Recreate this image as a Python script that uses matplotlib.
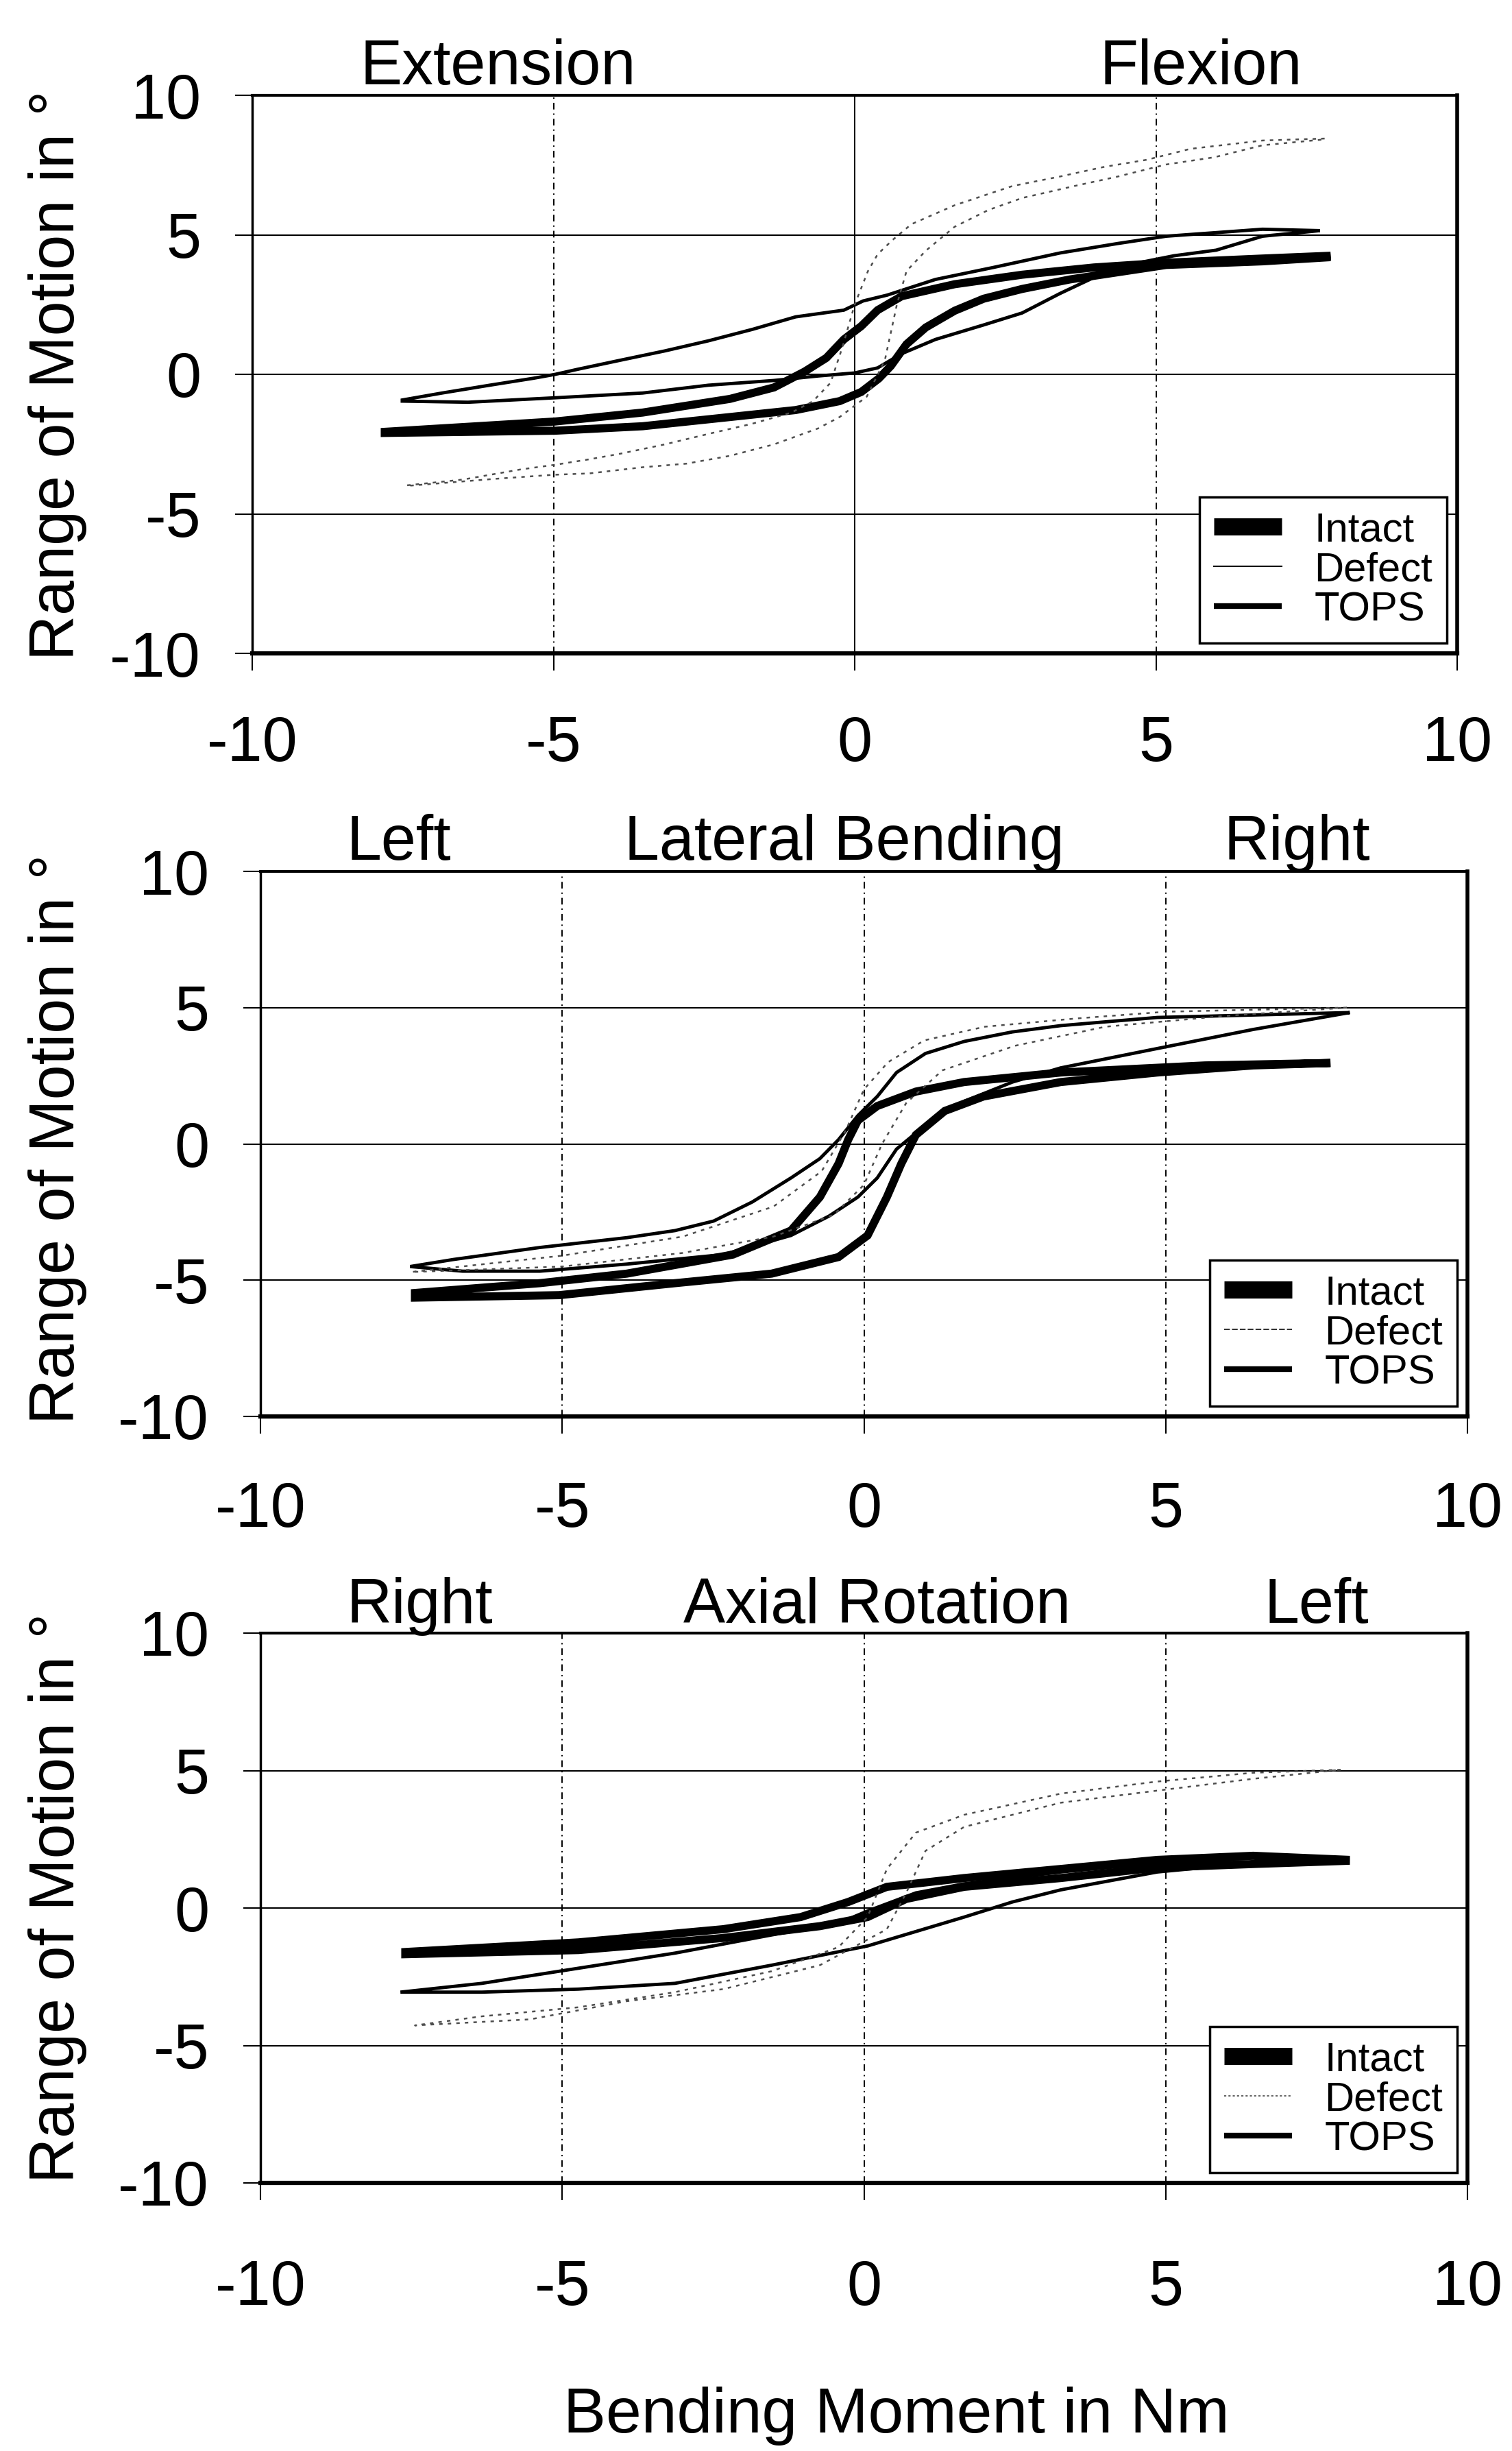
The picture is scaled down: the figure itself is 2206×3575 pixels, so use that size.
import matplotlib
matplotlib.use('Agg')
import matplotlib.pyplot as plt
from matplotlib.lines import Line2D

plt.rcParams['font.family'] = ['Liberation Sans', 'DejaVu Sans']

W, H, DPI = 2206, 3575, 100

# ---------------- data ----------------
X_TICKS = [-10, -5, 0, 5, 10]
X_TICK_LABELS = ['-10', '-5', '0', '5', '10']
Y_TICKS = [-10, -5, 0, 5, 10]
Y_TICK_LABELS = ['-10', '-5', '0', '5', '10']
SERIES = ['Intact', 'Defect', 'TOPS']
Y_LABEL = 'Range of Motion in °'
X_LABEL = 'Bending Moment in Nm'

FE_TITLES = ['Extension', 'Flexion']
LB_TITLES = ['Left', 'Lateral Bending', 'Right']
AR_TITLES = ['Right', 'Axial Rotation', 'Left']

# Flexion / Extension
FE_INTACT_UPPER = [(-7.8, -2.06), (-4.97, -1.69), (-3.52, -1.37), (-2.07, -0.88), (-1.34, -0.47),
                   (-0.83, 0.1), (-0.47, 0.59), (-0.18, 1.25), (0.11, 1.73), (0.38, 2.3), (0.78, 2.8),
                   (1.66, 3.23), (2.78, 3.57), (3.97, 3.83), (5.17, 4.0), (6.77, 4.15), (7.9, 4.25)]
FE_INTACT_LOWER = [(-7.8, -2.1), (-4.97, -2.02), (-3.52, -1.86), (-2.07, -1.53), (-0.98, -1.28),
                   (-0.25, -0.96), (0.11, -0.63), (0.4, -0.15), (0.6, 0.3), (0.86, 1.08), (1.18, 1.68),
                   (1.66, 2.28), (2.14, 2.71), (2.78, 3.06), (3.57, 3.4), (5.17, 3.92), (6.77, 4.05), (7.9, 4.2)]
FE_DEFECT_UPPER = [(-7.44, -3.98), (-6.5, -3.77), (-5.55, -3.41), (-4.97, -3.24), (-4.39, -3.04),
                   (-3.88, -2.84), (-3.15, -2.51), (-2.36, -2.1), (-1.7, -1.77), (-1.05, -1.37),
                   (-0.69, -0.96), (-0.4, -0.3), (-0.2, 1.0), (0.0, 2.5), (0.22, 3.7), (0.38, 4.3),
                   (0.62, 4.8), (0.94, 5.38), (1.66, 6.06), (2.62, 6.75), (3.41, 7.09), (4.13, 7.43),
                   (4.85, 7.69), (5.57, 8.08), (6.77, 8.38), (7.8, 8.45)]
FE_DEFECT_LOWER = [(-7.44, -4.0), (-6.0, -3.75), (-5.0, -3.6), (-4.4, -3.55), (-3.52, -3.33),
                   (-2.79, -3.2), (-2.07, -2.92), (-1.34, -2.51), (-0.61, -1.94), (-0.25, -1.53),
                   (0.2, -0.8), (0.5, 0.5), (0.7, 2.5), (0.86, 3.7), (1.18, 4.43), (1.66, 5.29),
                   (2.22, 5.89), (2.78, 6.32), (3.65, 6.75), (4.37, 7.09), (5.17, 7.52), (5.97, 7.78),
                   (6.77, 8.21), (7.8, 8.42)]
FE_TOPS_UPPER = [(-7.51, -0.92), (-6.85, -0.67), (-6.06, -0.39), (-5.33, -0.14), (-4.97, 0.0),
                 (-4.6, 0.18), (-3.88, 0.51), (-3.15, 0.84), (-2.43, 1.2), (-1.7, 1.61), (-0.98, 2.06),
                 (-0.18, 2.3), (0.14, 2.63), (0.54, 2.84), (1.34, 3.4), (2.3, 3.83), (3.41, 4.35),
                 (4.37, 4.69), (5.17, 4.95), (6.77, 5.2), (7.72, 5.15)]
FE_TOPS_LOWER = [(-7.51, -0.96), (-6.42, -1.0), (-4.97, -0.84), (-3.52, -0.67), (-2.43, -0.39),
                 (-1.34, -0.22), (-0.61, -0.06), (0.0, 0.05), (0.38, 0.23), (0.78, 0.74), (1.34, 1.25),
                 (2.14, 1.77), (2.78, 2.2), (3.41, 2.9), (4.0, 3.5), (4.6, 3.95), (5.3, 4.25),
                 (6.0, 4.45), (6.77, 4.95), (7.72, 5.15)]

# Lateral bending
LB_INTACT_UPPER = [(-7.44, -5.47), (-5.37, -5.11), (-3.93, -4.76), (-2.17, -4.06), (-1.21, -3.18),
                   (-0.73, -1.95), (-0.42, -0.72), (-0.26, 0.16), (-0.1, 0.86), (0.22, 1.39),
                   (0.86, 1.92), (1.66, 2.27), (3.26, 2.62), (5.65, 2.88), (7.73, 2.97)]
LB_INTACT_LOWER = [(-7.44, -5.64), (-5.05, -5.55), (-3.13, -5.11), (-1.53, -4.76), (-0.42, -4.15),
                   (0.06, -3.36), (0.38, -1.95), (0.62, -0.72), (0.86, 0.33), (1.34, 1.21),
                   (1.98, 1.74), (3.26, 2.27), (4.86, 2.62), (6.45, 2.88), (7.73, 2.97)]
LB_DEFECT_UPPER = [(-7.5, -4.7), (-5.0, -4.1), (-3.0, -3.4), (-1.5, -2.3), (-0.7, -1.0), (-0.3, 0.5),
                   (0.0, 2.0), (0.4, 3.0), (1.0, 3.8), (2.0, 4.3), (3.5, 4.6), (5.0, 4.85), (8.0, 5.0)]
LB_DEFECT_LOWER = [(-7.5, -4.7), (-5.0, -4.5), (-3.0, -4.0), (-1.5, -3.4), (-0.5, -2.6), (0.0, -1.5),
                   (0.3, 0.0), (0.7, 1.5), (1.3, 2.7), (2.5, 3.6), (4.0, 4.3), (6.0, 4.7), (8.0, 5.0)]
LB_TOPS_UPPER = [(-7.52, -4.5), (-6.8, -4.24), (-5.37, -3.8), (-3.93, -3.44), (-3.13, -3.18),
                 (-2.49, -2.83), (-1.85, -2.13), (-1.21, -1.25), (-0.73, -0.54), (-0.42, 0.16),
                 (-0.1, 1.04), (0.22, 1.74), (0.54, 2.62), (1.02, 3.32), (1.66, 3.76), (2.46, 4.11),
                 (3.26, 4.34), (4.86, 4.64), (6.45, 4.73), (8.05, 4.82)]
LB_TOPS_LOWER = [(-7.52, -4.5), (-6.65, -4.67), (-5.37, -4.67), (-3.93, -4.41), (-2.33, -4.06),
                 (-1.21, -3.36), (-0.58, -2.65), (-0.1, -1.95), (0.22, -1.25), (0.54, -0.19),
                 (1.02, 0.69), (1.66, 1.56), (2.46, 2.27), (3.26, 2.79), (4.86, 3.5), (6.45, 4.2),
                 (8.05, 4.82)]

# Axial rotation
AR_INTACT_UPPER = [(-7.6, -1.6), (-4.73, -1.25), (-2.33, -0.77), (-1.05, -0.33), (-0.26, 0.22),
                   (0.38, 0.77), (1.66, 1.09), (3.26, 1.42), (4.86, 1.75), (6.45, 1.9), (8.05, 1.75)]
AR_INTACT_LOWER = [(-7.6, -1.68), (-4.73, -1.53), (-2.33, -1.09), (-0.73, -0.66), (0.06, -0.33),
                   (0.7, 0.33), (1.66, 0.77), (3.26, 1.09), (4.86, 1.47), (6.45, 1.6), (8.05, 1.72)]
AR_DEFECT_UPPER = [(-7.44, -4.27), (-6.33, -3.94), (-4.73, -3.61), (-3.13, -3.06), (-1.53, -2.3),
                   (-0.42, -1.42), (0.06, -0.33), (0.38, 1.42), (0.86, 2.74), (1.66, 3.39),
                   (3.26, 4.16), (4.86, 4.6), (6.45, 4.92), (7.9, 5.03)]
AR_DEFECT_LOWER = [(-7.44, -4.27), (-5.53, -4.05), (-3.93, -3.39), (-2.33, -2.95), (-0.73, -2.08),
                   (0.38, -0.77), (0.7, 0.55), (1.02, 2.08), (1.66, 2.95), (3.26, 3.83),
                   (4.86, 4.27), (6.45, 4.7), (7.9, 5.03)]
AR_TOPS_UPPER = [(-7.68, -3.06), (-6.33, -2.74), (-4.73, -2.19), (-3.13, -1.64), (-1.53, -0.98),
                 (-0.42, -0.55), (0.06, -0.11), (0.86, 0.55), (1.66, 0.88), (3.26, 1.31),
                 (4.86, 1.64), (6.45, 1.82), (7.9, 1.8)]
AR_TOPS_LOWER = [(-7.68, -3.06), (-6.33, -3.06), (-4.73, -2.95), (-3.13, -2.74), (-1.53, -2.08),
                 (0.06, -1.38), (1.66, -0.33), (2.46, 0.22), (3.26, 0.66), (4.86, 1.31),
                 (6.45, 1.64), (7.9, 1.8)]

# ---------------- layout / styles ----------------
PANELS = [
    dict(rect=(368, 139, 2126, 953), xpad=47, solid_zero=True,
         loops={'Intact': (FE_INTACT_UPPER, FE_INTACT_LOWER),
                'Defect': (FE_DEFECT_UPPER, FE_DEFECT_LOWER),
                'TOPS': (FE_TOPS_UPPER, FE_TOPS_LOWER)},
         titles=list(zip(FE_TITLES, [727, 1752])), title_base=123, ylab_y=547,
         defect_leg=dict(ls='-', color='black', lw=1.5)),
    dict(rect=(380, 1271, 2141, 2066), xpad=50, solid_zero=False,
         loops={'Intact': (LB_INTACT_UPPER, LB_INTACT_LOWER),
                'Defect': (LB_DEFECT_UPPER, LB_DEFECT_LOWER),
                'TOPS': (LB_TOPS_UPPER, LB_TOPS_LOWER)},
         titles=list(zip(LB_TITLES, [582, 1232, 1892])), title_base=1254, ylab_y=1661,
         defect_leg=dict(ls=(0, (4, 1.5)), color='0.2', lw=1.5)),
    dict(rect=(380, 2382, 2141, 3184), xpad=62, solid_zero=False,
         loops={'Intact': (AR_INTACT_UPPER, AR_INTACT_LOWER),
                'Defect': (AR_DEFECT_UPPER, AR_DEFECT_LOWER),
                'TOPS': (AR_TOPS_UPPER, AR_TOPS_LOWER)},
         titles=list(zip(AR_TITLES, [612, 1280, 1921])), title_base=2367, ylab_y=2768,
         defect_leg=dict(ls=(0, (1.5, 1.5)), color='0.4', lw=1.5)),
]

STYLE = {
    'Intact': dict(color='black', lw=8.5, zorder=4),
    'TOPS': dict(color='black', lw=3.5, zorder=5),
    'Defect': dict(color='0.3', lw=1.8, ls=(0, (2.0, 3.0)), zorder=6),
}

FS = 66

fig = plt.figure(figsize=(W / DPI, H / DPI), dpi=DPI)
fig.patch.set_facecolor('white')

for p in PANELS:
    l, t, r, b = p['rect']
    ax = fig.add_axes([l / W, 1 - b / H, (r - l) / W, (b - t) / H])
    ax.set_xlim(-10, 10)
    ax.set_ylim(-10, 10)
    ax.set_xticks(X_TICKS)
    ax.set_xticklabels(X_TICK_LABELS)
    ax.set_yticks(Y_TICKS)
    ax.set_yticklabels(Y_TICK_LABELS)
    ax.tick_params(axis='both', direction='out', length=18, width=1.5, labelsize=FS, color='black')
    ax.tick_params(axis='y', pad=36)
    ax.tick_params(axis='x', pad=p['xpad'])
    for v in [-5, 0, 5]:
        ax.axhline(v, color='black', lw=1.5, zorder=1)
        if v == 0 and p['solid_zero']:
            ax.axvline(v, color='black', lw=1.4, zorder=1)
        else:
            ax.axvline(v, color='black', lw=1.4, ls=(0, (5, 3, 1, 3)), zorder=1)
    ax.spines['top'].set_linewidth(3.0)
    ax.spines['bottom'].set_linewidth(4.5)
    ax.spines['left'].set_linewidth(2.5)
    ax.spines['right'].set_linewidth(4.0)

    for name in ['Intact', 'TOPS', 'Defect']:
        upper, lower = p['loops'][name]
        pts = list(reversed(upper)) + list(lower)
        xs = [q[0] for q in pts]
        ys = [q[1] for q in pts]
        st = STYLE[name]
        ax.plot(xs, ys, color=st['color'], lw=st['lw'], ls=st.get('ls', '-'),
                zorder=st['zorder'], solid_joinstyle='miter', solid_capstyle='butt')

    dl = p['defect_leg']
    handles = [Line2D([], [], color='black', lw=18, solid_capstyle='butt'),
               Line2D([], [], color=dl['color'], lw=dl['lw'], ls=dl['ls']),
               Line2D([], [], color='black', lw=6, solid_capstyle='butt')]
    leg = ax.legend(handles, SERIES, loc='lower right', bbox_to_anchor=(1, 0),
                    fontsize=43, frameon=True, fancybox=False, framealpha=1,
                    edgecolor='black', borderpad=0.35, labelspacing=0.05,
                    handlelength=1.65, handletextpad=0.8, borderaxespad=0.25)
    leg.get_frame().set_linewidth(2.5)
    leg.set_zorder(10)

    for txt, xc in p['titles']:
        fig.text(xc / W, 1 - p['title_base'] / H, txt, ha='center', va='baseline', fontsize=FS)
    fig.text(84 / W, 1 - p['ylab_y'] / H, Y_LABEL, rotation=90, ha='center', va='center', fontsize=FS)

fig.text(1308 / W, 1 - 3548 / H, X_LABEL, ha='center', va='baseline', fontsize=67)

fig.savefig('out.png', dpi=DPI, facecolor='white')
